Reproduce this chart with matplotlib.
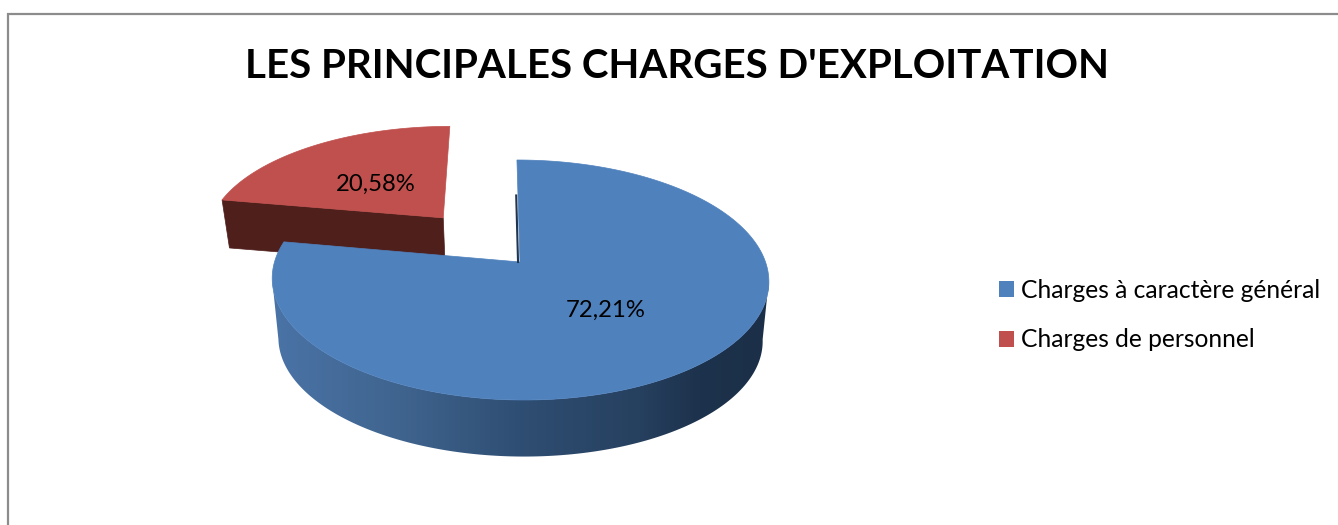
import numpy as np
import matplotlib
matplotlib.use("Agg")
import matplotlib.pyplot as plt
from matplotlib.colors import to_rgb
from matplotlib.patches import Patch, Polygon

labels = ["Charges à caractère général", "Charges de personnel"]
values = [72.21, 20.58]
colors = ["#4f81bd", "#c0504d"]
title = "LES PRINCIPALES CHARGES D'EXPLOITATION"

plt.rcParams['font.family'] = ['Lato', 'DejaVu Sans']

# perspective of the pie plane, in pixels
cx, cy, R = 520, 262, 245.5
persp, ytilt = 0.15, -78
skew = 0.03
explode = 0.52


def project(u, v, z=0, depth=60.0):
    w = 1 + persp * v
    y = (ytilt * v + cy) / w
    x = cx + R * u / w * (1 - 0.025 * z) + skew * (y - cy)
    y = cy + (y - cy) * (1 - 0.025 * z) + depth * z
    return x, y


fig = plt.figure(figsize=(13.38, 5.25), dpi=100)
ax = fig.add_axes([0, 0, 1, 1])

# chart border
ax.plot([8, 8, 1338], [525, 14, 14], color="#8c8c8c", lw=1.6, solid_joinstyle="miter")

angles = np.array(values) / sum(values) * 2 * np.pi
blue_end = angles[0]
red_end = blue_end + angles[1]

# red slice (pulled out), drawn first as the blue one covers it
mid = (blue_end + red_end) / 2
ex, ey = explode * np.sin(mid) + 0.008, explode * np.cos(mid)
t = np.linspace(blue_end, red_end, 80)
u = np.r_[ex, ex + np.sin(t)]
v = np.r_[ey, ey + np.cos(t)]
x0, y0 = project(u, v)
x1, y1 = project(u, v, 1, depth=46.5)
# front cut face of the red slice
ax.fill([x0[0], x0[1], x1[1], x1[0]], [y0[0], y0[1], y1[1], y1[0]], color="#4f1f1c", lw=0.5, zorder=2)
ax.fill(x0, y0, color=colors[1], lw=0.5, zorder=3)

# blue top outline
t = np.linspace(0, blue_end, 500)
xa, ya = project(np.sin(t), np.cos(t))

# blue slice side, a horizontal gradient clipped to the front part of the outline
tf = np.radians(np.linspace(98.6, 261.4, 300))
xf, yf = project(np.sin(tf), np.cos(tf))
xb, yb = project(np.sin(tf), np.cos(tf), 1)
grad_x = np.linspace(265, 775, 510)
stops_x = [275, 400, 520, 640, 700, 765]
stops_c = np.array([to_rgb(c) for c in ["#4a73a6", "#3f648e", "#2f4e73", "#26405f", "#1d324c", "#1b2f48"]])
grad = np.stack([np.interp(grad_x, stops_x, stops_c[:, i]) for i in range(3)], axis=-1)[None, :, :]
im = ax.imshow(grad, extent=[265, 775, 470, 150], aspect="auto", zorder=4)
side = Polygon(np.c_[np.r_[xf, xb[::-1]], np.r_[yf, yb[::-1]]], closed=True, transform=ax.transData)
im.set_clip_path(side)

# blue top face
ax.fill(np.r_[cx, xa], np.r_[cy, ya], color=colors[0], lw=0.5, zorder=5)

# thin dark edge of the cut at 12 o'clock
vv = np.linspace(0.0, 0.62, 10)
sx, sy = project(-0.008 * np.ones(10), vv)
ax.plot(sx, sy, color="#1f3550", lw=1.5, zorder=6)

# percent labels
texts = [f"{val:.2f}".replace(".", ",") + "%" for val in values]
ax.text(606, 310, texts[0], ha="center", va="center", fontsize=17.2, color="black", zorder=7)
ax.text(376, 184, texts[1], ha="center", va="center", fontsize=17.2, color="black", zorder=7)

ax.text(677, 67, title, ha="center", va="center", fontsize=29, fontweight="bold", color="black")

handles = [Patch(facecolor=colors[0], label=labels[0]), Patch(facecolor=colors[1], label=labels[1])]
leg = ax.legend(handles=handles, loc="upper left", bbox_to_anchor=(999 / 1338, 1 - 279 / 525), frameon=False,
                fontsize=17.7, handlelength=0.61, handleheight=0.61, handletextpad=0.3,
                labelspacing=1.07, borderpad=0, borderaxespad=0)

ax.set_xlim(0, 1338)
ax.set_ylim(525, 0)
ax.axis("off")

fig.savefig("out.png", dpi=100, facecolor="white")
